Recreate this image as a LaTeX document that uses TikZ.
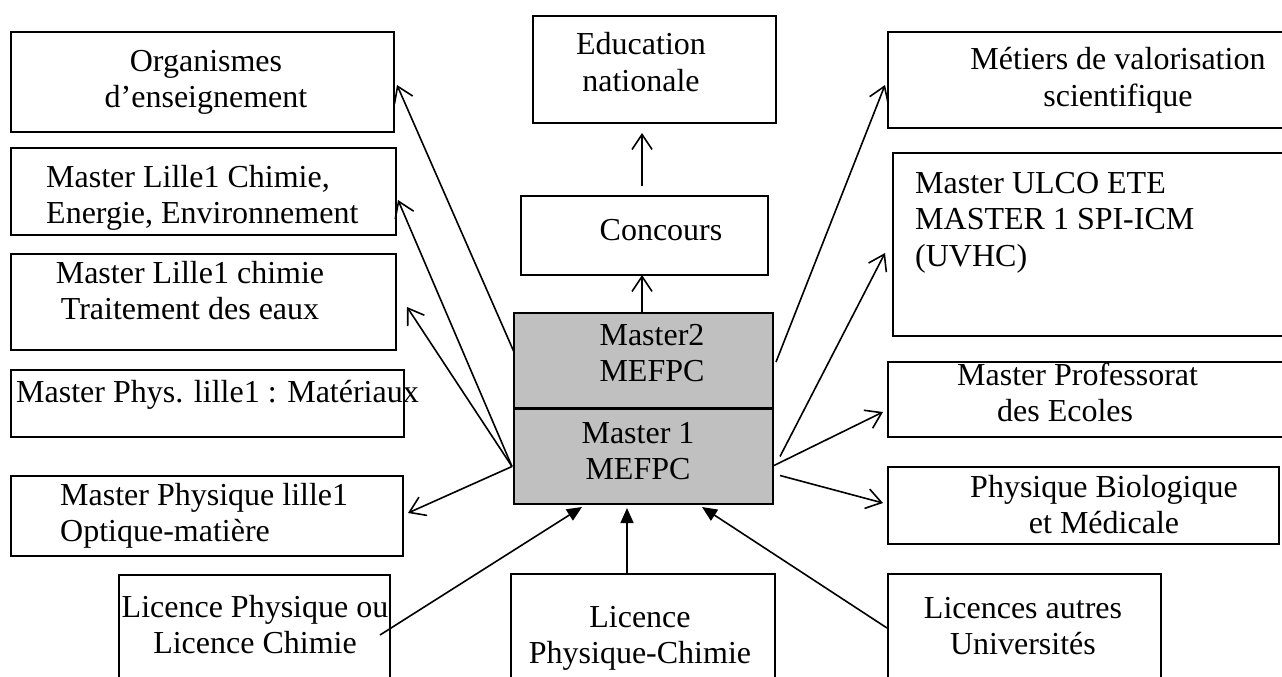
\documentclass[tikz,border=0pt]{standalone}
\usepackage{fontspec}
\setmainfont{Liberation Serif}
\usetikzlibrary{arrows.meta,calc}
\newcommand\mycen[1]{\parbox[t]{440pt}{\centering #1}}
\newcommand\myleft[1]{\parbox[t]{440pt}{\raggedright #1}}
\definecolor{silverfill}{RGB}{192,192,192}
\begin{document}
\begin{tikzpicture}[x=1pt,y=-1pt,
  box/.style={draw, line width=2pt, inner sep=0pt, outer sep=0pt, anchor=north west},
  gbox/.style={box, fill=silverfill},
  txt/.style={inner sep=0pt, anchor=base, font=\fontsize{32}{36.8}\selectfont},
  ltxt/.style={txt, anchor=base west},
  outarr/.style={line width=1.6pt, -{Straight Barb[length=15pt,width=20pt,line width=1.6pt]}},
  inarr/.style={line width=1.6pt, -{Triangle[length=15pt,width=13pt]}}]
\clip (0,0) rectangle (1282,677);
\fill[white] (0,0) rectangle (1282,677);
% boxes
\node[box, minimum width=383pt, minimum height=100pt] (org) at (11,32) {};
\node[box, minimum width=385pt, minimum height=87pt] (mce) at (11,148) {};
\node[box, minimum width=385pt, minimum height=96pt] (mct) at (11,254) {};
\node[box, minimum width=393pt, minimum height=67pt] (mpm) at (11,370) {};
\node[box, minimum width=392pt, minimum height=80pt] (mpo) at (11,476) {};
\node[box, minimum width=271pt, minimum height=125pt] (lpcou) at (119,575) {};
\node[box, minimum width=243pt, minimum height=107pt] (edu) at (533,16) {};
\node[box, minimum width=247pt, minimum height=79pt] (conc) at (521,196) {};
\node[gbox, minimum width=259pt, minimum height=95pt] (m2) at (514,313) {};
\node[gbox, minimum width=259pt, minimum height=95pt] (m1) at (514,409) {};
\node[box, minimum width=264pt, minimum height=126pt] (lpcc) at (511,574) {};
\node[box, minimum width=412pt, minimum height=96pt] (met) at (888,32) {};
\node[box, minimum width=407pt, minimum height=183pt] (ulco) at (893,153) {};
\node[box, minimum width=412pt, minimum height=75pt] (prof) at (888,362) {};
\node[box, minimum width=391pt, minimum height=77pt] (pbm) at (888,467) {};
\node[box, minimum width=273pt, minimum height=126pt] (lau) at (888,574) {};
% texts
\node[txt] (torg) at (206,71) {\mycen{Organismes\\d’enseignement}};
\node[ltxt] (tmce) at (46,187) {\myleft{Master Lille1 Chimie,\\Energie, Environnement}};
\node[txt] (tmct) at (190,283) {\mycen{Master Lille1 chimie\\Traitement des eaux}};
\node[ltxt] (tmpm) at (16,402) {\myleft{Master Phys. lille1 : Matériaux}};
\node[ltxt] (tmpo) at (60,505) {\myleft{Master Physique lille1\\Optique-matière}};
\node[txt] (tlpcou) at (255,617) {\mycen{Licence Physique ou\\Licence Chimie}};
\node[txt] (tedu) at (641,55) {\mycen{Education\\nationale}};
\node[txt] (tconc) at (661,240) {\mycen{Concours}};
\node[txt] (tm2) at (652,345) {\mycen{Master2\\MEFPC}};
\node[txt] (tm1) at (638,443) {\mycen{Master 1\\MEFPC}};
\node[txt] (tlpcc) at (640,627) {\mycen{Licence\\Physique-Chimie}};
\node[txt] (tmet) at (1118,70) {\mycen{Métiers de valorisation\\scientifique}};
\node[ltxt] (tulco) at (915,193) {\myleft{Master ULCO ETE\\MASTER 1 SPI-ICM\\(UVHC)}};
\node[ltxt] (tprof) at (957,385) {\myleft{Master Professorat\\\hspace*{40pt}des Ecoles}};
\node[txt] (tpbm) at (1104,497) {\mycen{Physique Biologique\\et Médicale}};
\node[txt] (tlau) at (1023,618) {\mycen{Licences autres\\Universités}};
% outgoing arrows
\draw[outarr] ($(conc.north)+(-2.5,-10)$) -- ($(edu.south)+(-12.5,10)$);
\draw[outarr] ($(m2.north)+(-1.5,0)$) -- ($(conc.south)+(-2.5,0)$);
\draw[outarr] ($(m2.west)+(0,-8.5)$) -- ($(org.east)+(3,3)$);
\draw[outarr] ($(m1.west)+(-2,10)$) -- ($(mce.east)+(2,8.5)$);
\draw[outarr] ($(m1.west)+(-2,10)$) -- ($(mct.east)+(11,5)$);
\draw[outarr] ($(m1.west)+(-2,10)$) -- ($(mpo.east)+(5,-3)$);
\draw[outarr] ($(m2.east)+(3,1.5)$) -- ($(met.west)+(-3,5)$);
\draw[outarr] ($(m1.east)+(7,0)$) -- ($(ulco.west)+(-8,8.5)$);
\draw[outarr] ($(m1.east)+(1,9)$) -- ($(prof.west)+(-5,12.5)$);
\draw[outarr] ($(m1.east)+(7,19)$) -- ($(pbm.west)+(-5,-2.5)$);
% incoming arrows
\draw[inarr] ($(lpcou.east)+(-10,-2.5)$) -- ($(m1.south)+(-61.5,3)$);
\draw[inarr] ($(lpcc.north)+(-16,-1)$) -- ($(m1.south)+(-16.5,4)$);
\draw[inarr] ($(lau.west)+(-1,-9)$) -- ($(m1.south)+(58.5,3)$);
\end{tikzpicture}
\end{document}
